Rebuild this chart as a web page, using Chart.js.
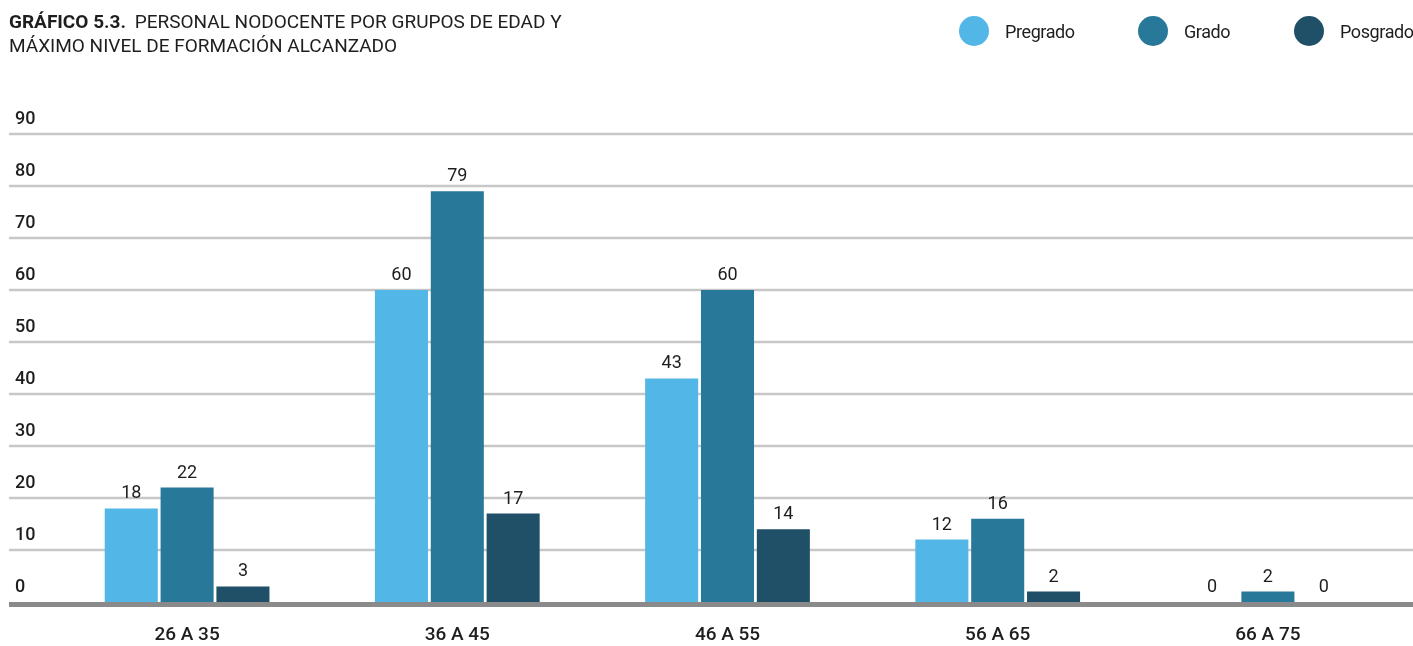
<!DOCTYPE html>
<html>
<head>
<meta charset="utf-8">
<script src="https://cdn.jsdelivr.net/npm/chart.js@4.4.1/dist/chart.umd.min.js"></script>
<style>
  body { margin: 0; background: #fff; }
  #wrap { position: relative; width: 1413px; height: 646px; font-family: 'Roboto', sans-serif; color: #1e1e1e; }
  #title { position: absolute; left: 9px; top: 10px; font-size: 19px; line-height: 24px; }
  #title b { font-weight: bold; margin-right: 4px; }
  #legend { position: absolute; top: 16px; left: 0; width: 1413px; height: 30px; }
  .item { position: absolute; top: 0; height: 30px; display: flex; align-items: center; font-size: 18px; letter-spacing: -0.4px; }
  .dot { width: 30px; height: 30px; border-radius: 50%; margin-right: 16px; }
  canvas { position: absolute; left: 0; top: 0; }
</style>
</head>
<body>
<div id="wrap">
  <canvas id="myChart" width="1413" height="646"></canvas>
  <div id="title"><b>GRÁFICO 5.3.</b> PERSONAL NODOCENTE POR GRUPOS DE EDAD Y<br>MÁXIMO NIVEL DE FORMACIÓN ALCANZADO</div>
  <div id="legend"></div>
</div>

<script>
const labels = ['26 A 35', '36 A 45', '46 A 55', '56 A 65', '66 A 75'];
const pregrado = [18, 60, 43, 12, 0];
const grado = [22, 79, 60, 16, 2];
const posgrado = [3, 17, 14, 2, 0];
const yTicks = [0, 10, 20, 30, 40, 50, 60, 70, 80, 90];

const COLORS = { pregrado: '#52b6e6', grado: '#28789a', posgrado: '#1f5068' };
const FONT = "'Roboto', sans-serif";

const data = {
  labels: labels,
  datasets: [
    { label: 'Pregrado', data: pregrado, backgroundColor: COLORS.pregrado },
    { label: 'Grado', data: grado, backgroundColor: COLORS.grado },
    { label: 'Posgrado', data: posgrado, backgroundColor: COLORS.posgrado }
  ]
};

// gridlines run the full width, tick labels sit just above each line
const gridPlugin = {
  id: 'fullGrid',
  beforeDatasetsDraw(chart) {
    const ctx = chart.ctx, y = chart.scales.y;
    ctx.save();
    ctx.strokeStyle = '#c7c7c7';
    ctx.lineWidth = 2.5;
    ctx.font = '500 18px ' + FONT;
    ctx.fillStyle = '#1e1e1e';
    ctx.textBaseline = 'alphabetic';
    yTicks.forEach(v => {
      const py = y.getPixelForValue(v);
      if (v > 0) {
        ctx.beginPath();
        ctx.moveTo(9, py);
        ctx.lineTo(chart.width, py);
        ctx.stroke();
      }
      ctx.fillText(String(v), 15, py - 10);
    });
    ctx.restore();
  },
  afterDatasetsDraw(chart) {
    const ctx = chart.ctx, y = chart.scales.y;
    const py = y.getPixelForValue(0);
    ctx.save();
    ctx.fillStyle = '#8a8a8a';
    ctx.fillRect(9, py, chart.width - 9, 5);
    // value labels
    ctx.font = '18px ' + FONT;
    ctx.fillStyle = '#1e1e1e';
    ctx.textAlign = 'center';
    ctx.textBaseline = 'alphabetic';
    chart.data.datasets.forEach((ds, i) => {
      chart.getDatasetMeta(i).data.forEach((bar, j) => {
        ctx.fillText(String(ds.data[j]), bar.x, bar.y - 10);
      });
    });
    ctx.restore();
  }
};

const config = {
  type: 'bar',
  data: data,
  options: {
    responsive: false,
    animation: false,
    layout: { padding: { top: 134, left: 52, right: 10, bottom: 0 } },
    datasets: { bar: { categoryPercentage: 0.62, barPercentage: 0.95 } },
    plugins: { legend: { display: false }, tooltip: { enabled: false } },
    scales: {
      x: {
        grid: { display: false, drawTicks: false, tickLength: 0 },
        border: { display: false },
        ticks: { padding: 22, color: '#1e1e1e', font: { family: FONT, size: 19, weight: '500' } },
        afterFit(scale) { scale.height = 44; }
      },
      y: { display: false, min: 0, max: 90 }
    }
  },
  plugins: [gridPlugin]
};

var myChart = new Chart(document.getElementById('myChart'), config);

// legend built from the datasets
const legendPos = [959, 1138, 1294];
const legend = document.getElementById('legend');
data.datasets.forEach((ds, i) => {
  const item = document.createElement('div');
  item.className = 'item';
  item.style.left = legendPos[i] + 'px';
  item.innerHTML = '<span class="dot" style="background:' + ds.backgroundColor + '"></span>' + ds.label;
  legend.appendChild(item);
});
</script>
</body>
</html>
